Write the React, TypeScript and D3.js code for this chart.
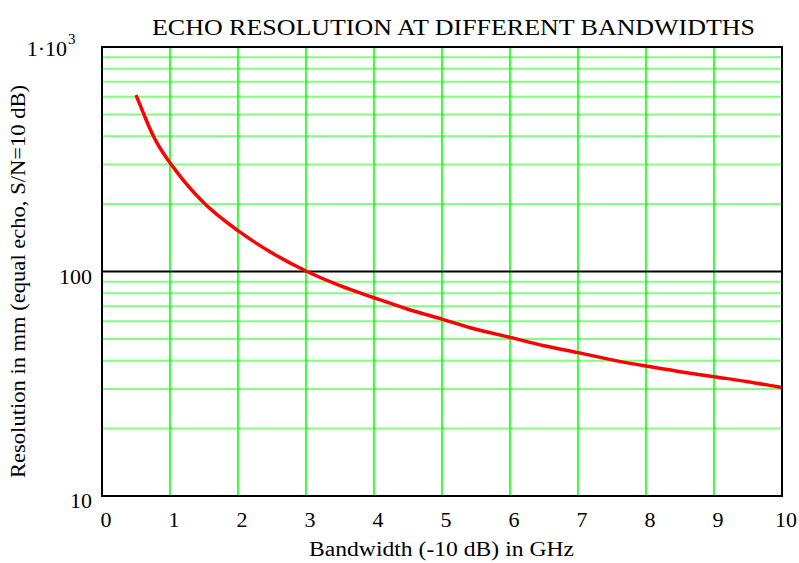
import React from "react";
import * as d3 from "d3";

const bandwidthGHz = [0.5, 0.6, 0.7, 0.8, 0.9, 1.0, 1.2, 1.5, 2.0, 2.5, 3.0, 3.5, 4.0, 4.5, 5.0, 5.5, 6.0, 6.5, 7.0, 7.5, 8.0, 8.5, 9.0, 9.5, 10.0];
const resolutionMm = [610, 515, 436, 378, 337, 305, 254, 202, 152, 121, 100.5, 86.5, 76.4, 67.9, 61.4, 55.3, 50.9, 46.7, 43.5, 40.4, 37.9, 35.8, 34.0, 32.3, 30.4];
const xTicks = [0, 1, 2, 3, 4, 5, 6, 7, 8, 9, 10];
const yMinorTicks = [20, 30, 40, 50, 60, 70, 80, 90, 200, 300, 400, 500, 600, 700, 800, 900];

const W = 799, H = 563;
const left = 102, right = 782, top = 47, bottom = 496;

export default function App() {
  const x = d3.scaleLinear().domain([0, 10]).range([left, right]);
  const y = d3.scaleLog().domain([10, 1000]).range([bottom, top]);
  const line = d3.line<number>()
    .x((_, i) => x(bandwidthGHz[i]))
    .y((d) => y(d))
    .curve(d3.curveMonotoneX);
  const font = "'Liberation Serif', 'Times New Roman', serif";
  return (
    <svg width={W} height={H} style={{ position: "absolute", left: 0, top: 0 }} fontFamily={font}>
      <rect width={W} height={H} fill="#fff" />
      <text x={453.5} y={35} fontSize={23} textAnchor="middle" textLength={603} lengthAdjust="spacingAndGlyphs">ECHO RESOLUTION AT DIFFERENT BANDWIDTHS</text>
      {yMinorTicks.map((v) => (
        <line key={"h" + v} x1={left} x2={right} y1={y(v)} y2={y(v)} stroke="#80ff80" strokeWidth={2} />
      ))}
      {xTicks.slice(1, -1).map((v) => (
        <line key={"v" + v} x1={x(v)} x2={x(v)} y1={top} y2={bottom} stroke="#00ff00" strokeWidth={1.5} />
      ))}
      <line x1={left} x2={right} y1={y(100)} y2={y(100)} stroke="#000" strokeWidth={2} />
      <path d={line(resolutionMm) || ""} fill="none" stroke="#ff0000" strokeWidth={3.5} />
      <rect x={left} y={top} width={right - left} height={bottom - top} fill="none" stroke="#000" strokeWidth={2} />
      {xTicks.map((v) => (
        <text key={"xt" + v} x={x(v) + 4} y={527} fontSize={22} textAnchor="middle">{v}</text>
      ))}
      <text x={92} y={y(10) + 12} fontSize={22} textAnchor="end">10</text>
      <text x={92} y={y(100) + 12} fontSize={22} textAnchor="end">100</text>
      <text x={67} y={56} fontSize={22} textAnchor="end">1·10</text>
      <text x={68} y={44} fontSize={15}>3</text>
      <text x={441.5} y={556} fontSize={20} textAnchor="middle" textLength={265} lengthAdjust="spacingAndGlyphs">Bandwidth (-10 dB) in GHz</text>
      <text transform={`translate(25,281.5) rotate(-90)`} fontSize={20} textAnchor="middle" textLength={393} lengthAdjust="spacingAndGlyphs">
        Resolution in mm (equal echo, S/N=10 dB)
      </text>
    </svg>
  );
}
